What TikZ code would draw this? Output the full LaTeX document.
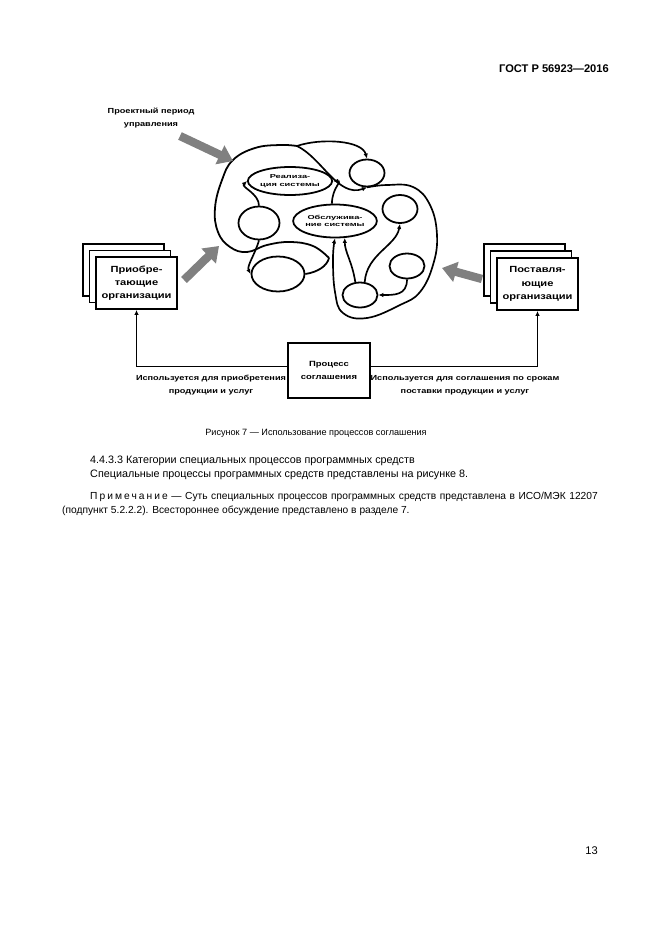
\documentclass[tikz,border=0pt]{standalone}
\usepackage{fontspec}
\setmainfont{Liberation Sans}
\newfontfamily\figfont[FakeStretch=1.25]{Liberation Sans}
\newfontfamily\tinyfig[FakeStretch=1.6]{Liberation Sans}
\usetikzlibrary{arrows.meta, positioning, shapes.geometric}
\tikzset{
	orgbox/.style={draw, line width=1.6pt, fill=white, minimum width=72.9pt,
		minimum height=46.8pt, align=center, inner sep=1pt,
		font=\figfont\bfseries\fontsize{8}{12}\selectfont},
	backbox/.style={draw, line width=1.1pt, fill=white, minimum width=72.9pt,
		minimum height=46.8pt},
	procbox/.style={draw, line width=1.6pt, fill=white, minimum width=73.8pt,
		minimum height=49.5pt, align=center, inner sep=1pt,
		font=\figfont\bfseries\fontsize{6.8}{11}\selectfont},
	actv/.style={ellipse, draw, line width=1.6pt, fill=white, inner sep=0pt,
		align=center, font=\tinyfig\bfseries\fontsize{5.2}{6.5}\selectfont},
	lbl/.style={align=center, inner sep=0pt, font=\figfont\bfseries\fontsize{6.6}{11.7}\selectfont},
	flow/.style={-{Latex[length=4.5pt,width=4pt]}, line width=1.5pt},
	blob/.style={line width=1.6pt},
	fatarr/.style={-{Triangle[length=13pt,width=18pt]}, line width=7.5pt, draw=black!50},
	txt/.style={inner sep=0pt, anchor=base west, font=\fontsize{9.7}{12.6}\selectfont},
}
\begin{document}
\begin{tikzpicture}[x=0.9pt, y=-0.9pt]
	\useasboundingbox (0,0) rectangle (661,935);
	\fill[white] (0,0) rectangle (661,935);

	% header
	\node[inner sep=0pt, anchor=base east, font=\bfseries\fontsize{10}{12}\selectfont]
		(hdr) at (609,72) {ГОСТ Р 56923—2016};

	% activities
	\node[actv, minimum width=47.7pt, minimum height=25.2pt] (real) at (290,181) {Реализа-\\ция системы};
	\node[actv, minimum width=31.5pt, minimum height=24.3pt] (tr) at (367,173) {};
	\node[actv, minimum width=36.9pt, minimum height=29.7pt] (lf) at (259,223) {};
	\node[actv, minimum width=45.9pt, minimum height=29.7pt] (serv) at (335,221) {Обслужива-\\ние системы};
	\node[actv, minimum width=31.5pt, minimum height=25.2pt] (rt) at (400,209) {};
	\node[actv, minimum width=47.7pt, minimum height=31.5pt] (bl) at (278,274) {};
	\node[actv, minimum width=31.5pt, minimum height=22.5pt] (rb) at (407,266) {};
	\node[actv, minimum width=31.5pt, minimum height=22.5pt] (bm) at (360,295) {};

	% project cycle outline
	\coordinate (ptop) at (297,146);
	\draw[blob] plot[smooth, tension=0.7] coordinates {(329,258) (313,246) (290,242) (267,245)
		(247,252) (230,247) (218,232) (215,208) (222,180) (233,160) (255,148) (280,145) (297,146)};
	\draw[flow] (ptop) .. controls (320,138) and (362,140) .. (tr.north);
	\draw[flow] (ptop) .. controls (322,158) and (338,198) .. (tr.south);
	\draw[flow] plot[smooth, tension=0.7] coordinates {(tr.south) (387,185) (413,187) (430,205)
		(437,235) (433,265) (420,292) (400,305) (367,318) (343,313) (335,292) (333,258) (serv.south)};
	\draw[blob] (bl.east) .. controls (318,272) and (327,266) .. (329,258);
	\draw[flow] (lf.north) .. controls +(0,-12) and +(-6,6) .. (real.west);
	\draw[flow] (lf.south) .. controls +(-4,14) and +(-4,-8) .. (bl.west);
	\draw[flow] (serv.100) .. controls +(0,-16) and +(10,0) .. (real.east);
	\draw[flow] (bm.110) .. controls +(-3,-20) and +(0,14) .. (serv.-60);
	\draw[flow] (bm.70) .. controls +(2,-28) and +(-4,22) .. (rt.south);
	\draw[flow] (rb.south) .. controls +(0,16) and +(16,0) .. (bm.east);

	\node[lbl] (cyc) at (151,118) {Проектный период\\управления};
	\coordinate (g1a) at (180,136);
	\coordinate (g1b) at (233,161);
	\draw[fatarr] (g1a) -- (g1b);

	% organizations
	\node[backbox] (acq3) at (123.5,270) {};
	\node[backbox] (acq2) at (130,276.5) {};
	\node[orgbox] (acq1) at (136.5,283) {Приобре-\\тающие\\организации};
	\node[backbox] (sup3) at (524.5,270) {};
	\node[backbox] (sup2) at (531,277) {};
	\node[orgbox] (sup1) at (537.5,284) {Поставля-\\ющие\\организации};
	\coordinate (g2a) at (184,280);
	\coordinate (g2b) at (219,246);
	\draw[fatarr] (g2a) -- (g2b);
	\coordinate (g3a) at (482,279);
	\coordinate (g3b) at (442,268);
	\draw[fatarr] (g3a) -- (g3b);

	% agreement
	\node[procbox] (proc) at (329,370.5) {Процесс\\соглашения};
	\draw[flow] ([yshift=3.5pt]proc.west) -| (acq1.south);
	\draw[flow] ([yshift=3.5pt]proc.east) -| (sup1.south);
	\node[lbl] (usea) at (211,385) {Используется для приобретения\\продукции и услуг};
	\node[lbl] (uses) at (465,385) {Используется для соглашения по срокам\\поставки продукции и услуг};

	% page text
	\node[inner sep=0pt, font=\fontsize{8.2}{11}\selectfont] (cap) at (316,433)
		{Рисунок 7 — Использование процессов соглашения};
	\node[txt] (sec) at (90,463) {4.4.3.3 Категории специальных процессов программных средств};
	\node[txt] (par) at (90,477) {Специальные процессы программных средств представлены на рисунке 8.};
	\node[inner sep=0pt, anchor=north west, text width=482pt, align=justify,
		font=\fontsize{9.2}{12.6}\selectfont] (note) at (62,492)
		{\hspace*{25.2pt}{\addfontfeature{LetterSpace=20}Примечание}~— Суть специальных процессов программных средств представлена в ИСО/МЭК 12207\linebreak (подпункт 5.2.2.2). Всестороннее обсуждение представлено в разделе 7.};
	\node[inner sep=0pt, anchor=base east, font=\fontsize{10}{12}\selectfont] (pg) at (598,854) {13};
\end{tikzpicture}
\end{document}
